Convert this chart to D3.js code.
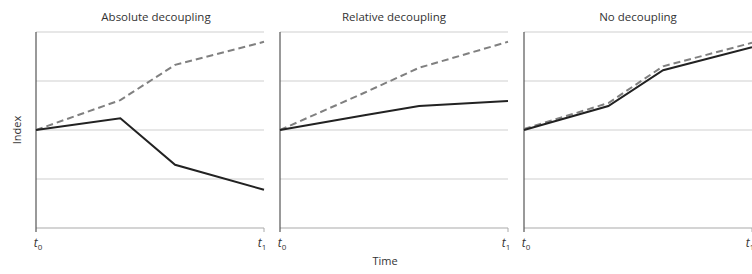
<!DOCTYPE html>
<html><head><meta charset="utf-8">
<script src="https://cdn.jsdelivr.net/npm/d3@7"></script>
<style>body{margin:0;background:#fff}svg{display:block}</style>
</head><body>
<svg id="c" width="752" height="274"></svg>
<script>
const panelTitles = ["Absolute decoupling", "Relative decoupling", "No decoupling"];
const timePoints = [0, 0.37, 0.61, 1];
const gdpSeries = [
  [2, 2.61, 3.33, 3.8],
  [2, 2.76, 3.27, 3.8],
  [2.02, 2.55, 3.3, 3.78]
];
const resourceSeries = [
  [2, 2.24, 1.29, 0.78],
  [2, 2.3, 2.49, 2.59],
  [2, 2.49, 3.22, 3.69]
];
const gridValues = [1, 2, 3, 4];
const xTickLabels = [["t", "0"], ["t", "1"]];

const svg = d3.select("#c");
const font = "'Open Sans', sans-serif";
const panelX = [36, 280, 524];
const panelW = 228;
const y = d3.scaleLinear().domain([0, 4]).range([228, 32]);

panelTitles.forEach((title, i) => {
  const x = d3.scaleLinear().domain([0, 1]).range([panelX[i], panelX[i] + panelW]);
  const g = svg.append("g");
  // gridlines
  g.selectAll("line.grid").data(gridValues).join("line")
    .attr("x1", x(0)).attr("x2", x(1))
    .attr("y1", d => y(d)).attr("y2", d => y(d))
    .attr("stroke", "#cfcfcf").attr("stroke-width", 1);
  // x axis
  g.append("line").attr("x1", x(0)).attr("x2", x(1)).attr("y1", y(0)).attr("y2", y(0))
    .attr("stroke", "#aaa").attr("stroke-width", 1.2);
  g.append("line").attr("x1", x(1)).attr("x2", x(1)).attr("y1", y(0)).attr("y2", y(0) + 4)
    .attr("stroke", "#aaa").attr("stroke-width", 1);
  // y axis
  g.append("line").attr("x1", x(0)).attr("x2", x(0)).attr("y1", y(4)).attr("y2", y(0) + 4)
    .attr("stroke", "#555").attr("stroke-width", 1.2);
  // title
  g.append("text").attr("x", x(0.5) + (i === 0 ? 6 : 0)).attr("y", 21)
    .attr("text-anchor", "middle").attr("font-family", font).attr("font-size", 11.5)
    .attr("fill", "#333").text(title);
  // tick labels
  [0, 1].forEach(j => {
    const t = g.append("text").attr("x", x(j) + (j === 0 ? 2 : -2)).attr("y", 247)
      .attr("text-anchor", "middle").attr("font-family", font).attr("font-size", 12)
      .attr("font-style", "italic").attr("fill", "#333");
    t.append("tspan").text(xTickLabels[j][0]);
    t.append("tspan").attr("dy", 3).attr("font-size", 8).attr("font-style", "normal").text(xTickLabels[j][1]);
  });
  const line = d3.line().x((d, k) => x(timePoints[k])).y(d => y(d));
  g.append("path").datum(gdpSeries[i]).attr("d", line).attr("fill", "none")
    .attr("stroke", "#808080").attr("stroke-width", 2).attr("stroke-dasharray", "7,4");
  g.append("path").datum(resourceSeries[i]).attr("d", line).attr("fill", "none")
    .attr("stroke", "#222").attr("stroke-width", 2);
});

svg.append("text").attr("x", 385).attr("y", 265).attr("text-anchor", "middle")
  .attr("font-family", font).attr("font-size", 11).attr("fill", "#333").text("Time");
svg.append("text").attr("transform", "translate(21,130) rotate(-90)").attr("text-anchor", "middle")
  .attr("font-family", font).attr("font-size", 11).attr("fill", "#333").text("Index");
</script>
</body></html>
